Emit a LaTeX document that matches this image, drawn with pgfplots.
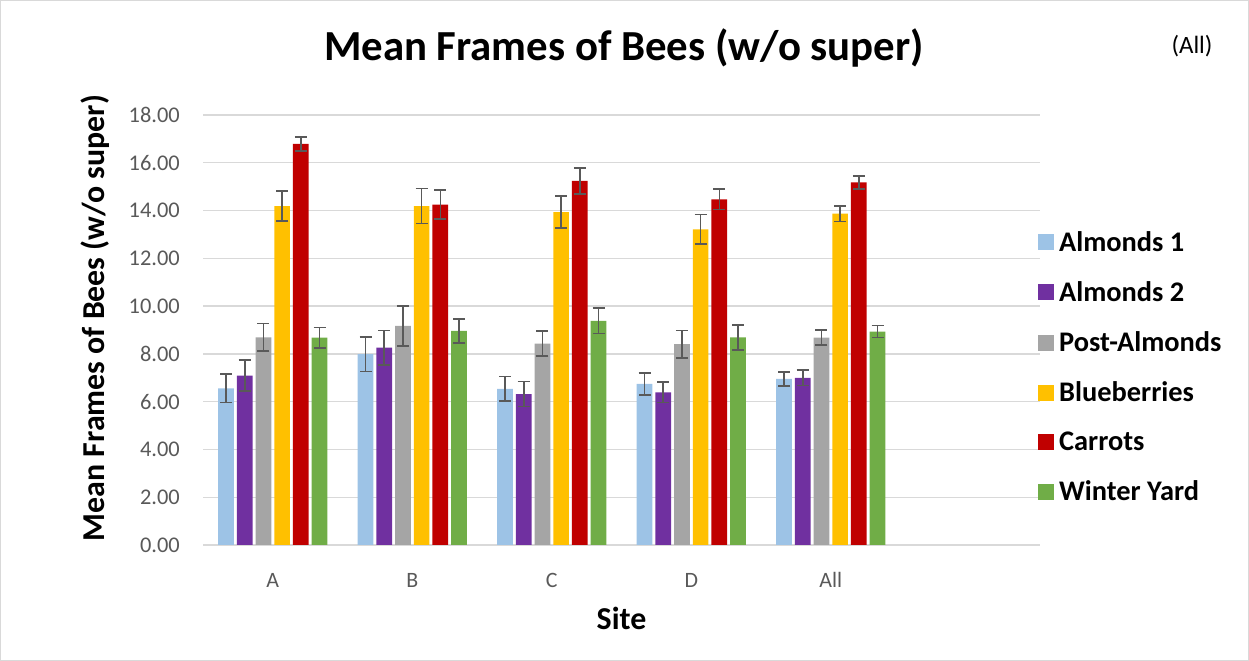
\documentclass[border=0pt]{standalone}
\usepackage{fontspec}
\setmainfont{Carlito}
\usepackage{pgfplots}
\pgfplotsset{compat=1.18}
\usepackage{pgfplotstable}
\definecolor{cA}{HTML}{9DC3E6}
\definecolor{cB}{HTML}{7030A0}
\definecolor{cC}{HTML}{A5A5A5}
\definecolor{cD}{HTML}{FFC000}
\definecolor{cE}{HTML}{C00000}
\definecolor{cF}{HTML}{70AD47}
\definecolor{gridgray}{HTML}{D9D9D9}
\definecolor{ticktext}{HTML}{595959}
\definecolor{errgray}{HTML}{595959}

\pgfplotstableread{
x y e
0 6.56 0.60
1 7.99 0.72
2 6.54 0.52
3 6.74 0.45
4 6.95 0.30
}\tA
\pgfplotstableread{
x y e
0 7.09 0.65
1 8.26 0.72
2 6.32 0.53
3 6.39 0.43
4 7.00 0.32
}\tB
\pgfplotstableread{
x y e
0 8.69 0.58
1 9.17 0.84
2 8.43 0.53
3 8.41 0.57
4 8.68 0.32
}\tC
\pgfplotstableread{
x y e
0 14.19 0.62
1 14.19 0.73
2 13.93 0.67
3 13.21 0.62
4 13.87 0.33
}\tD
\pgfplotstableread{
x y e
0 16.79 0.30
1 14.25 0.60
2 15.24 0.55
3 14.47 0.42
4 15.18 0.27
}\tE
\pgfplotstableread{
x y e
0 8.68 0.43
1 8.96 0.50
2 9.38 0.53
3 8.69 0.52
4 8.93 0.25
}\tF

\pgfplotsset{
  mybar/.style={fill=#1, draw=none,
    error bars/y dir=both, error bars/y explicit,
    error bars/error bar style={color=errgray, line width=1.6bp},
    error bars/error mark options={color=errgray, line width=1.6bp, mark size=6bp, rotate=90},
    legend image code/.code={\fill[#1] (0bp,-8bp) rectangle (16bp,8bp);}},
}

\begin{document}
\begin{tikzpicture}
\useasboundingbox (0,0) rectangle (1249bp,661bp);
\draw[color=gridgray, line width=1bp] (0.5bp,0.5bp) rectangle (1248.5bp,660.5bp);
\node[font=\bfseries\fontsize{43}{48}\selectfont, anchor=center] at (624bp,613bp) {Mean Frames of Bees (w/o super)};
\node[font=\fontsize{25}{30}\selectfont, anchor=center] at (1192bp,615bp) {(All)};
\begin{axis}[
  at={(203bp,116bp)}, anchor=south west,
  scale only axis, width=837bp, height=430bp,
  xmin=-0.5, xmax=5.5, ymin=0, ymax=18,
  ytick={0,2,...,18},
  xtick={0,1,2,3,4}, xticklabels={A,B,C,D,All},
  ymajorgrids, major grid style={color=gridgray, line width=1.3bp},
  axis line style={draw=none},
  tick style={draw=none},
  ybar=3bp, bar width=15.7bp,
  yticklabel style={font=\fontsize{22.5}{26}\selectfont, color=ticktext, anchor=east, inner sep=0pt, xshift=-23bp,
     /pgf/number format/.cd, fixed, fixed zerofill, precision=2, assume math mode=true},
  xticklabel style={font=\fontsize{22}{26}\selectfont, color=ticktext, anchor=base, inner sep=0pt, yshift=-38bp},
  xlabel={Site},
  every axis x label/.style={at={(rel axis cs:0.5,0)}, yshift=-73bp, anchor=center, font=\bfseries\fontsize{32}{36}\selectfont},
  ylabel={Mean Frames of Bees (w/o super)},
  every axis y label/.style={at={(rel axis cs:0,0.5)}, xshift=-108bp, yshift=12bp, rotate=90, anchor=center, font=\bfseries\fontsize{32}{36}\selectfont},
  legend style={at={(rel axis cs:1,0.414)}, anchor=west, xshift=-2bp, draw=none, fill=none,
     font=\bfseries\fontsize{28.5}{32}\selectfont, row sep=24.7bp, inner sep=0pt,
     /tikz/every odd column/.append style={column sep=3bp},
     /tikz/every even column/.append style={column sep=4bp}},
  legend cell align=left,
]
\addplot[mybar=cA] table[x=x,y=y,y error=e] {\tA};
\addplot[mybar=cB] table[x=x,y=y,y error=e] {\tB};
\addplot[mybar=cC] table[x=x,y=y,y error=e] {\tC};
\addplot[mybar=cD] table[x=x,y=y,y error=e] {\tD};
\addplot[mybar=cE] table[x=x,y=y,y error=e] {\tE};
\addplot[mybar=cF] table[x=x,y=y,y error=e] {\tF};
\legend{Almonds 1, Almonds 2, Post-Almonds, Blueberries, Carrots, Winter Yard}
\end{axis}
\end{tikzpicture}
\end{document}
